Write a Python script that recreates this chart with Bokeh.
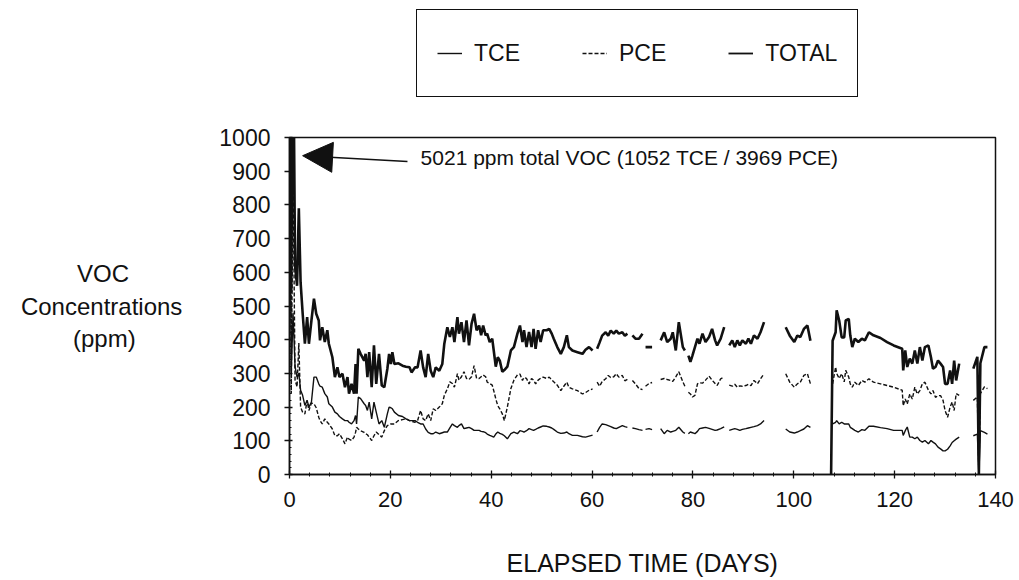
import numpy as np
from bokeh.plotting import figure
from bokeh.layouts import column
from bokeh.models import (Range1d, FixedTicker, Legend, LegendItem, Label,
                          Arrow, NormalHead, ColumnDataSource)
from bokeh.embed import file_html
from bokeh.resources import INLINE

nan = float("nan")

# ---------------- data ----------------
days = [
    0.0, 0.35, 0.7, 1.1, 1.5, 1.85, 2.2, 2.6, 3.05, 3.5, 3.85, 4.35, 4.85, 5.3, 5.8,
    6.05, 6.5, 7.0, 7.5, 7.8, 8.5, 9.0, 9.5, 9.9, 10.5, 11.0, 11.5, 11.8, 12.3, 12.8,
    13.1, 13.3, 13.65, 14.1, 14.8, 15.1, 15.45, 15.8, 16.3, 16.75, 17.2, 17.75, 18.3,
    18.8, 19.4, 19.75, 20.1, 20.4, 20.8, 21.6, 22.4, 23.1, 23.8, 24.2, 24.9, 25.4,
    26.0, 26.5, 27.0, 27.5, 28.0, 28.5, 29.0, 29.7, 30.3, 30.7,
    31.3, 31.8, 32.3, 32.7, 33.3, 33.6, 34.1, 34.6, 35.1, 35.6, 36.1, 36.6, 37.1,
    37.6, 38.0, 38.4, 38.9, 39.2, 39.7, 40.2, 40.5, 40.9, 41.3, 41.7, 42.2, 42.6,
    43.2, 43.9, 44.5, 45.2, 45.7, 46.2, 46.5, 47.0, 47.5, 48.0, 48.4, 48.8, 49.3,
    49.8, 50.3, 51.0, 51.5, 52.0, 52.4, 53.1, 53.8, 54.4, 55.0, 55.4, 56.1, 57.1,
    58.1, 58.7, 59.4, 60.1, 60.5, 61.0,
    61.5, 62.0, 62.7, 63.2, 63.7, 64.3, 64.8, 65.3, 66.0, 66.5, 67.0, 67.5, 68.0,
    68.6, 69.3, 70.0, 70.3, 70.6, 71.3, 71.9, 72.7, 73.6, 74.3, 74.9, 75.6, 76.0,
    76.6, 77.2, 78.0, 78.4, 78.7, 79.1, 79.5, 79.9, 80.4, 80.9, 81.3, 81.9, 82.5,
    83.2, 83.8, 84.4, 84.8, 85.5, 86.2, 86.6, 87.2, 87.8, 88.3, 88.8, 89.3, 89.8,
    90.5, 91.0, 91.5, 92.1, 92.8, 93.4, 94.1, 94.5,
    98.4, 99.2, 100.1, 100.7, 101.3, 102.0, 102.7, 103.3, 104.0,
    107.4, 107.7, 108.3, 108.5, 109.0, 109.5, 110.0, 110.3, 110.9, 111.2, 111.6,
    112.1, 112.8, 113.5, 114.1, 114.9, 115.8, 117.2, 118.5, 119.8, 121.5, 121.7,
    122.1, 122.5, 123.0, 123.5, 124.0, 124.5, 125.0, 125.5, 126.0, 126.7, 127.2,
    127.6, 128.1, 128.6, 129.1, 129.6, 130.0, 130.5, 131.0, 131.4, 131.8, 132.2,
    132.8, 133.3, 135.6, 136.4, 136.7, 137.0, 137.8, 138.4,
]

total = [
    5021, 540, 1400, 620, 560, 790, 570, 480, 388, 467, 388, 457, 522, 477, 457,
    398, 437, 393, 428, 388, 348, 289, 318, 289, 299, 259, 289, 240, 269, 240,
    328, 240, 373, 358, 338, 358, 289, 363, 259, 383, 269, 358, 264,
    259, 313, 358, 328, 363, 328, 330, 323, 320, 318, 303, 318, 318,
    368, 318, 289, 358, 308, 289, 318, 308, 328, 388,
    437, 408, 437, 393, 467, 418, 452, 393, 457, 383, 447, 477, 428,
    442, 413, 442, 413, 418, 393, 403, 368, 320, 348, 338, 305, 310,
    320, 368, 378, 418, 442, 393, 428, 378, 423, 378, 432, 373, 428,
    393, 428, 428, 432, 418, 403, 378, 358, 378, 413, 378, 368, 363,
    358, 370, 378, 368, nan, 373,
    392, 412, 422, 412, 427, 418, 427, 418, 422, 412, 418, nan, 413,
    403, 403, 418, nan, 378, 378, 378, nan, 398, 422, 393, 403, 422,
    368, 452, 378, 368, nan, 353, 334, 353, 378, 403, 388, 418, 393,
    408, 432, 398, 383, 403, 437, nan, 383, 398, 378, 398, 383, 398,
    388, 403, 388, 413, 403, 422, 452, nan,
    437, 412, 393, 412, 408, 432, 442, 397, nan,
    0, 397, 422, 487, 457, 407, 407, 457, 462, 413, 378,
    403, 393, 403, 398, 422, 413, 405, 393, 383, 373, 309,
    368, 319, 344, 329, 368, 329, 378, 338, 378, 383, 348,
    314, 319, 338, 329, 319, 269, 269, 309, 269, 338, 279,
    329, nan, 314, 349, 0, 330, 378, 378,
]

tce = [
    1052, 300, 480, 320, 289, 300, 250, 235, 205, 220, 200, 215, 289, 289, 269,
    262, 259, 240, 230, 210, 200, 185, 180, 172, 165, 160, 160, 155, 150, 160,
    175, 150, 230, 225, 210, 205, 190, 215, 165, 215, 185, 150, 160,
    140, 180, 200, 198, 195, 185, 175, 172, 165, 160, 160, 160, 155,
    150, 150, 135, 125, 121, 121, 126, 121, 124, 126,
    126, 138, 150, 145, 140, 145, 150, 136, 138, 140, 136, 131, 131,
    131, 128, 127, 124, 120, 116, 113, 111, 120, 126, 122, 119, 115,
    106, 121, 126, 121, 130, 128, 126, 130, 136, 133, 131, 134, 138,
    141, 144, 143, 141, 138, 134, 126, 122, 123, 126, 121, 116, 116,
    112, 111, 114, 117, nan, 126,
    140, 150, 148, 145, 142, 138, 136, 140, 145, 142, 140, nan, 138,
    136, 133, 131, nan, 134, 136, 133, nan, 136, 121, 131, 126, 128,
    131, 140, 126, 122, nan, 121, 126, 124, 121, 128, 136, 138, 140,
    137, 134, 131, 132, 136, 141, nan, 131, 134, 136, 134, 131, 134,
    136, 138, 140, 142, 145, 150, 160, nan,
    135, 126, 123, 126, 130, 135, 145, 140, nan,
    nan, 150, 155, 160, 150, 155, 150, 150, 150, 140, 136,
    131, 126, 133, 131, 143, 143, 139, 136, 131, 131, 116,
    130, 141, 111, 111, 106, 111, 101, 96, 101, 91, 101,
    96, 91, 81, 76, 70, 70, 75, 85, 95, 100, 105,
    111, nan, 115, 120, 0, 130, 125, 120,
]

pce = [
    3969, 240, 920, 280, 260, 390, 200, 185, 180, 220, 190, 212, 210, 198, 170,
    160, 150, 165, 155, 150, 135, 115, 115, 121, 106, 91, 111, 105, 101, 111,
    125, 140, 135, 130, 125, 121, 118, 111, 101, 115, 126, 118, 111,
    130, 145, 148, 150, 150, 150, 160, 163, 165, 160, 158, 155, 160,
    190, 165, 160, 180, 160, 195, 190, 200, 210, 235,
    254, 275, 270, 259, 299, 280, 290, 305, 285, 282, 290, 323, 285,
    285, 290, 295, 290, 274, 270, 265, 249, 225, 204, 195, 180, 160,
    200, 255, 280, 296, 298, 279, 288, 285, 269, 285, 280, 269, 280,
    286, 289, 285, 289, 281, 275, 265, 249, 262, 274, 259, 254, 249,
    239, 243, 250, 254, nan, 274,
    262, 276, 284, 294, 288, 290, 299, 289, 294, 278, 282, nan, 279,
    269, 255, 252, nan, 262, 270, 273, nan, 282, 285, 282, 279, 276,
    290, 305, 275, 262, nan, 244, 239, 230, 235, 269, 272, 271, 280,
    292, 280, 270, 264, 284, 289, nan, 265, 262, 268, 259, 263, 262,
    264, 268, 264, 279, 269, 284, 299, nan,
    299, 274, 259, 269, 274, 294, 299, 269, nan,
    nan, 269, 319, 300, 285, 299, 275, 309, 289, 269, 259,
    274, 264, 279, 274, 284, 274, 269, 264, 259, 250, 204,
    224, 209, 239, 224, 259, 239, 249, 269, 274, 250, 239,
    249, 229, 234, 234, 220, 190, 170, 200, 215, 190, 240,
    235, nan, 220, 230, 0, 240, 260, 255,
]

x_ticks = [0, 20, 40, 60, 80, 100, 120, 140]
y_ticks = [0, 100, 200, 300, 400, 500, 600, 700, 800, 900, 1000]
legend_labels = ["TCE", "PCE", "TOTAL"]
note_text = "5021 ppm total VOC (1052 TCE / 3969 PCE)"
x_title = "ELAPSED TIME (DAYS)"
y_title_lines = ["VOC", "Concentrations", "(ppm)"]

# ---------------- styles ----------------
FONT = "Liberation Sans"
INK = "#111111"
STY_TCE = dict(line_color=INK, line_width=1.4)
STY_PCE = dict(line_color=INK, line_width=1.4, line_dash="4 2")
STY_TOT = dict(line_color=INK, line_width=2.6)

# ---------------- legend strip (top) ----------------
LEG_H = 100
pl = figure(width=1019, height=LEG_H, output_backend="svg", toolbar_location=None,
            x_axis_location=None, y_axis_location=None,
            min_border_left=0, min_border_right=0, min_border_top=0,
            min_border_bottom=0)
pl.outline_line_color = None
pl.xgrid.visible = False
pl.ygrid.visible = False
lsrc = ColumnDataSource(dict(x=[nan], y=[nan]))
lr_tce = pl.line("x", "y", source=lsrc, line_color=INK, line_width=1.4)
lr_pce = pl.line("x", "y", source=lsrc, line_color=INK, line_width=1.4, line_dash="4 2")
lr_tot = pl.line("x", "y", source=lsrc, line_color=INK, line_width=1.8)
legend = Legend(items=[LegendItem(label=legend_labels[0], renderers=[lr_tce]),
                       LegendItem(label=legend_labels[1], renderers=[lr_pce]),
                       LegendItem(label=legend_labels[2], renderers=[lr_tot])],
                location=(127, 3), orientation="horizontal",
                label_text_font=FONT, label_text_font_size="23px",
                label_text_color=INK,
                glyph_width=25, glyph_height=46, label_height=46,
                label_standoff=12, spacing=62, padding=20, margin=0,
                border_line_color=INK, border_line_width=1.5, border_line_alpha=1.0,
                background_fill_color="white", background_fill_alpha=1.0)
pl.add_layout(legend)

# ---------------- main chart ----------------
p = figure(width=1019, height=580 - LEG_H, output_backend="svg", toolbar_location=None,
           x_range=Range1d(0, 140), y_range=Range1d(0, 1000),
           min_border_left=289, min_border_right=24,
           min_border_top=137 - LEG_H, min_border_bottom=106)
p.background_fill_color = "white"
p.border_fill_color = "white"
p.outline_line_color = INK
p.outline_line_width = 1.5
p.outline_line_alpha = 1.0
p.xgrid.visible = False
p.ygrid.visible = False

src = ColumnDataSource(dict(day=np.array(days, dtype=float),
                            tce=np.array(tce, dtype=float),
                            pce=np.array(pce, dtype=float),
                            total=np.array(total, dtype=float)))

p.line("day", "tce", source=src, **STY_TCE)
p.line("day", "pce", source=src, **STY_PCE)
p.line("day", "total", source=src, **STY_TOT)

# axes
xa = p.xaxis[0]
xa.ticker = FixedTicker(ticks=x_ticks, minor_ticks=list(range(0, 141, 4)))
xa.axis_label = x_title
xa.axis_label_text_font = FONT
xa.axis_label_text_font_size = "25px"
xa.axis_label_text_font_style = "normal"
xa.axis_label_text_color = INK
xa.axis_label_standoff = 39
xa.major_label_text_font = FONT
xa.major_label_text_font_size = "22px"
xa.major_label_text_color = INK
xa.major_label_standoff = 13
xa.axis_line_color = INK
xa.axis_line_width = 1.5
xa.major_tick_line_color = INK
xa.major_tick_line_width = 1.3
xa.major_tick_in = 4
xa.major_tick_out = 4
xa.minor_tick_line_color = INK
xa.minor_tick_in = 2
xa.minor_tick_out = 2

ya = p.yaxis[0]
ya.ticker = FixedTicker(ticks=y_ticks, minor_ticks=list(range(0, 1001, 20)))
ya.major_label_text_font = FONT
ya.major_label_text_font_size = "23px"
ya.major_label_text_color = INK
ya.major_label_standoff = 14
ya.axis_line_color = INK
ya.axis_line_width = 1.5
ya.major_tick_line_color = INK
ya.major_tick_line_width = 1.3
ya.major_tick_in = 3
ya.major_tick_out = 5
ya.minor_tick_line_color = INK
ya.minor_tick_in = 2
ya.minor_tick_out = 0

# y title: three horizontal lines, visually centred (lines are right-aligned
# by the axis, so the short lines get trailing no-break spaces)
NBSP = "\u00a0"
pad = [8, 0, 7]
ya.axis_label = "\n".join(t + NBSP * n for t, n in zip(y_title_lines, pad))
ya.axis_label_orientation = "horizontal"
ya.axis_label_text_font = FONT
ya.axis_label_text_font_size = "24px"
ya.axis_label_text_font_style = "normal"
ya.axis_label_text_color = INK
ya.axis_label_standoff = 34

# annotation with arrow
p.add_layout(Arrow(end=NormalHead(size=30, fill_color=INK, line_color=INK, line_width=1),
                   x_start=23.4, y_start=929, x_end=2.6, y_end=946,
                   line_color=INK, line_width=1.5))
p.add_layout(Label(x=26.0, y=941, text=note_text, text_align="left",
                   text_baseline="middle", text_font=FONT, text_font_size="21px",
                   text_color=INK))

open("out.html", "w").write(file_html(column(pl, p), INLINE))
